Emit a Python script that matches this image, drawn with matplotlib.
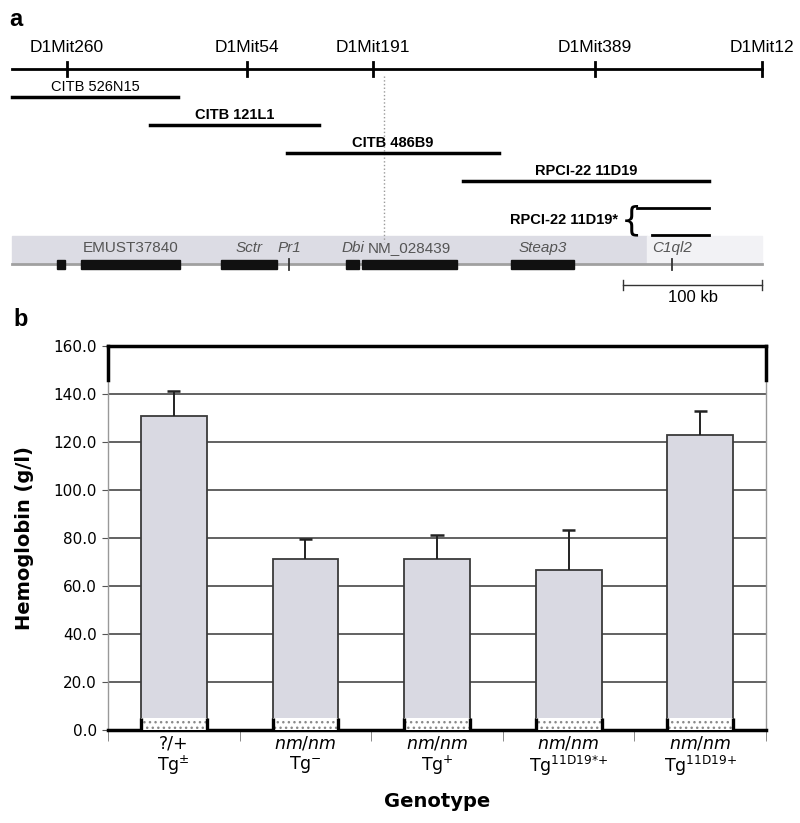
import numpy as np
import matplotlib
matplotlib.use("Agg")
import matplotlib.pyplot as plt

# ---- panel a : physical map (positions in kb from the left end of the map)
markers = ["D1Mit260", "D1Mit54", "D1Mit191", "D1Mit389", "D1Mit12"]
marker_kb = [39.6, 169.1, 259.7, 419.4, 539.6]

clones = ["CITB 526N15", "CITB 121L1", "CITB 486B9", "RPCI-22 11D19"]
clone_start = [0.0, 99.3, 197.8, 324.5]
clone_end = [119.4, 220.9, 350.4, 501.4]

trunc_label = "RPCI-22 11D19*"
trunc_start = [449.6, 460.4]
trunc_end = [501.4, 501.4]

gene_start = [32.4, 49.6, 150.4, 240.3, 251.8, 359.0]
gene_end = [38.1, 120.9, 190.6, 249.6, 320.1, 404.3]
gene_names = ["", "EMUST37840", "Sctr", "Dbi", "NM_028439", "Steap3"]
gene_italic = [False, False, True, True, False, True]
tick_genes = ["Pr1", "C1ql2"]
tick_kb = [199.3, 474.8]

# ---- panel b : hemoglobin
genotype_top = ["?/+", "nm/nm", "nm/nm", "nm/nm", "nm/nm"]
genotype_bottom = [r"Tg$^{\pm}$", r"Tg$^{-}$", r"Tg$^{+}$",
                   r"Tg$^{\mathregular{11D19{*}{+}}}$", r"Tg$^{\mathregular{11D19{+}}}$"]
hb_mean = [130.8, 71.4, 71.4, 66.5, 123.1]
hb_err = [10.3, 8.3, 10.0, 17.0, 9.8]

W, H = 800, 823
fig = plt.figure(figsize=(W / 100, H / 100), dpi=100)

# panel a axes: x in kb, y in pixels from the top
px_per_kb = 1.39
x0 = 12
ax = fig.add_axes([0, 1 - 305 / H, 1, 305 / H])
ax.set_xlim(-x0 / px_per_kb, (W - x0) / px_per_kb)
ax.set_ylim(305, 0)
ax.axis("off")

sans = "Liberation Sans"
ax.text(-2, 19, "a", fontsize=17, fontweight="bold", family=sans, va="center", ha="left")

# marker line
ax.plot([0, marker_kb[-1]], [69, 69], color="black", lw=2)
for name, k in zip(markers, marker_kb):
    ax.plot([k, k], [62, 76], color="black", lw=2)
    ax.text(k, 48, name, fontsize=12.5, family=sans, ha="center", va="center")

# dotted guide line
ax.plot([267.6, 267.6], [76, 242], color="#9a9a9a", lw=1, ls=":")

# clones
clone_y = [97, 125, 153, 181]
for i, (name, s, e) in enumerate(zip(clones, clone_start, clone_end)):
    ax.plot([s, e], [clone_y[i], clone_y[i]], color="black", lw=2.5)
    ax.text((s + e) / 2, clone_y[i] - 10, name, fontsize=10.5, family=sans,
            fontweight="normal" if i == 0 else "bold", ha="center", va="center")

for s, e, y in zip(trunc_start, trunc_end, [208, 235]):
    ax.plot([s, e], [y, y], color="black", lw=2)
ax.text(436, 220, trunc_label, fontsize=10.5, family=sans, fontweight="bold",
        ha="right", va="center")
ax.text(438, 221, "{", fontsize=24, family="DejaVu Sans", ha="left", va="center")

# gene track
ax.add_patch(plt.Rectangle((0, 236), 456.8, 27, color="#dcdce4", zorder=0))
ax.add_patch(plt.Rectangle((456.8, 236), marker_kb[-1] - 456.8, 27, color="#f2f2f5", zorder=0))
ax.plot([0, marker_kb[-1]], [264, 264], color="#a0a0a0", lw=2, zorder=1)
for s, e, name, it in zip(gene_start, gene_end, gene_names, gene_italic):
    ax.add_patch(plt.Rectangle((s, 260), e - s, 9, color="#111111", zorder=2))
    if name:
        ax.text((s + e) / 2, 248, name, fontsize=11, family=sans, color="#555555",
                style="italic" if it else "normal", ha="center", va="center")
for name, k in zip(tick_genes, tick_kb):
    ax.plot([k, k], [259, 270], color="#333333", lw=1.3, zorder=2)
    ax.text(k, 248, name, fontsize=11, family=sans, color="#555555",
            style="italic", ha="center", va="center")

# scale bar
sb0 = marker_kb[-1] - 100
ax.plot([sb0, marker_kb[-1]], [285, 285], color="#333333", lw=1)
for k in [sb0, marker_kb[-1]]:
    ax.plot([k, k], [280, 290], color="#333333", lw=1)
ax.text(sb0 + 50, 298, "100 kb", fontsize=12, family=sans, ha="center", va="center")

fig.text(13 / W, 1 - 320 / H, "b", fontsize=17, fontweight="bold", family=sans,
         ha="left", va="center")

# ---- panel b axes
bx = fig.add_axes([108 / W, 1 - 730 / H, (766 - 108) / W, (730 - 346) / H])
x = np.arange(len(hb_mean))
bw = 0.5
bx.set_xlim(-0.5, len(hb_mean) - 0.5)
bx.set_ylim(0, 160)

for v in range(20, 160, 20):
    bx.axhline(v, color="#555555", lw=1.3, zorder=1)

bx.bar(x, hb_mean, width=bw, color="#d9d9e2", edgecolor="#3a3a3a", lw=1.3, zorder=2)
# speckled white strip at the foot of each bar (scan artefact in the original)
bx.bar(x, [5] * len(x), width=bw, color="white", edgecolor="#8a8a8a", lw=0,
       hatch="...", zorder=3)
bx.vlines(np.concatenate([x - bw / 2, x + bw / 2]), 0, 5, color="black", lw=2.4, zorder=4)
bx.vlines(x, hb_mean, np.array(hb_mean) + np.array(hb_err), color="#222222", lw=1.4, zorder=4)
bx.hlines(np.array(hb_mean) + np.array(hb_err), x - 0.05, x + 0.05, color="#222222",
          lw=1.8, zorder=4)

for s in ["left", "right"]:
    bx.spines[s].set_color("#999999")
    bx.spines[s].set_linewidth(1)
bx.spines["top"].set_linewidth(2.5)
bx.spines["bottom"].set_linewidth(2.5)
bx.plot([-0.5, -0.5], [146, 160], color="black", lw=2.5, clip_on=False, zorder=5)
bx.plot([4.5, 4.5], [146, 160], color="black", lw=2.5, clip_on=False, zorder=5)

bx.set_yticks(np.arange(0, 161, 20))
bx.set_yticklabels([f"{v:.1f}" for v in np.arange(0, 161, 20)], fontsize=11)
bx.tick_params(axis="y", length=4, color="#555555", pad=4)

bx.set_xticks(x)
bx.set_xticklabels([(t if i == 0 else r"$\mathit{" + t + "}$") + "\n" + b
                    for i, (t, b) in enumerate(zip(genotype_top, genotype_bottom))],
                   fontsize=12.5, linespacing=1.1)
bx.tick_params(axis="x", length=0, pad=3)
bx.set_xticks(np.arange(-0.5, len(x), 1), minor=True)
bx.tick_params(axis="x", which="minor", length=8, color="#777777")

bx.set_ylabel("Hemoglobin (g/l)", fontsize=14, fontweight="bold", labelpad=14)
bx.set_xlabel("Genotype", fontsize=14, fontweight="bold", labelpad=10)

fig.savefig("out.png", dpi=100)
